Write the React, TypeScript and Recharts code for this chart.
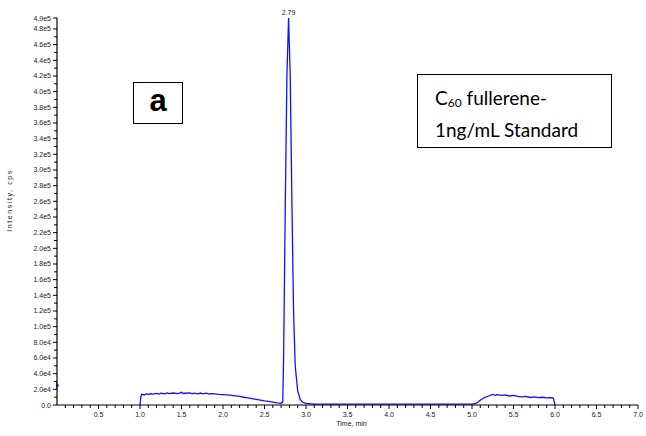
import React from "react";
import { LineChart, Line, XAxis, YAxis, ReferenceDot } from "recharts";

// retention time (min) and intensity (cps)
const times = [
  1.0, 1.01, 1.02, 1.05, 1.08, 1.1, 1.13, 1.15, 1.2, 1.23, 1.25, 1.3, 1.33, 1.35,
  1.4, 1.45, 1.48, 1.5, 1.52, 1.55, 1.6, 1.63, 1.65, 1.7, 1.73, 1.75, 1.8, 1.83,
  1.85, 1.9, 1.95, 2.0, 2.05, 2.1, 2.15, 2.2, 2.25, 2.3, 2.35, 2.4, 2.45, 2.5,
  2.55, 2.6, 2.65, 2.7, 2.72, 2.73, 2.75, 2.77, 2.79, 2.81, 2.83, 2.85, 2.87, 2.9,
  2.93, 2.96, 3.0, 3.1, 3.5, 4.0, 4.5, 5.0, 5.05, 5.1, 5.15, 5.2, 5.25, 5.28,
  5.3, 5.35, 5.4, 5.45, 5.5, 5.55, 5.6, 5.65, 5.7, 5.75, 5.8, 5.85, 5.9, 5.95,
  5.98, 6.0,
];
const intensity = [
  0, 10000, 14000, 12800, 14500, 13400, 14600, 13800, 14800, 13900, 15000, 14200,
  15400, 14500, 15300, 14600, 15100, 16200, 14700, 15000, 15400, 14300, 15200,
  14300, 15300, 14200, 15200, 14000, 14600, 14300, 13600, 13200, 12900, 12300,
  11700, 11000, 9900, 9100, 8200, 7100, 6100, 5200, 4500, 3600, 2800, 2200, 4000,
  60000, 250000, 420000, 494000, 420000, 260000, 120000, 50000, 18000, 7000, 3500,
  2000, 1200, 1000, 1000, 1000, 1000, 2000, 6000, 9500, 11500, 13500, 12400,
  13200, 12300, 12900, 11500, 12200, 11000, 10500, 10900, 9600, 10300, 9400, 9900,
  9000, 9300, 8800, 0,
];

const xMajorTicks = [0.5, 1.0, 1.5, 2.0, 2.5, 3.0, 3.5, 4.0, 4.5, 5.0, 5.5, 6.0, 6.5, 7.0];
const yMajorTicks = [
  0, 20000, 40000, 60000, 80000, 100000, 120000, 140000, 160000, 180000, 200000,
  220000, 240000, 260000, 280000, 300000, 320000, 340000, 360000, 380000, 400000,
  420000, 440000, 460000, 480000, 494000,
];
const peakTime = 2.79;
const peakValue = 494000;

const data = times.map((t, i) => ({ t, v: intensity[i] }));

const xTicks: number[] = [];
for (let i = 1; i <= 70; i++) xTicks.push(i / 10);
const yTicks: number[] = [];
for (let i = 0; i <= 48; i++) yTicks.push(i * 10000);
yTicks.push(494000);

const tickFont = { fontFamily: "'Liberation Sans', Arial, sans-serif", fontSize: 7, fill: "#222" };

const isMajorX = (v: number) => xMajorTicks.some((m) => Math.abs(m - v) < 1e-6);
const isMajorY = (v: number) => yMajorTicks.indexOf(v) >= 0;

const fmtY = (v: number) => (v === 0 ? "0.0" : v.toExponential(1).replace("e+", "e"));

const XTick = ({ x, y, payload }: any) => {
  const v = payload.value;
  const major = isMajorX(v);
  return (
    <g>
      <line x1={x} x2={x} y1={y} y2={y + (major ? 4 : 3)} stroke="#000" strokeWidth={1} />
      {major && (
        <text x={x} y={y + 12} textAnchor="middle" {...tickFont}>
          {v.toFixed(1)}
        </text>
      )}
    </g>
  );
};

const YTick = ({ x, y, payload }: any) => {
  const v = payload.value;
  const major = isMajorY(v);
  return (
    <g>
      <line x1={x - (major ? 4 : 3)} x2={x} y1={y} y2={y} stroke="#000" strokeWidth={1} />
      {major && (
        <text x={x - 6} y={y + 2.5} textAnchor="end" {...tickFont}>
          {fmtY(v)}
        </text>
      )}
    </g>
  );
};

// small cursor marker sitting on the y axis
const Marker = ({ cx, cy }: any) => (
  <path d={`M${cx - 1},${cy - 4} L${cx + 2},${cy} L${cx - 1},${cy + 4} Z`} fill="#102080" />
);

export default function App() {
  return (
    <div style={{ position: "absolute", left: 0, top: 0, width: 646, height: 436, background: "#fff" }}>
      <LineChart width={646} height={436} data={data} margin={{ top: 18, right: 8, bottom: 11, left: 7 }}>
        <XAxis
          dataKey="t"
          type="number"
          domain={[0, 7]}
          ticks={xTicks}
          interval={0}
          height={20}
          tickSize={0}
          tickMargin={0}
          tickLine={false}
          axisLine={{ stroke: "#000", strokeWidth: 1.2 }}
          tick={<XTick />}
          label={({ viewBox }: any) => (
            <text
              x={viewBox.x + viewBox.width / 2 + 4}
              y={viewBox.y + 21}
              textAnchor="middle"
              {...tickFont}
            >
              Time, min
            </text>
          )}
        />
        <YAxis
          type="number"
          domain={[0, 494000]}
          ticks={yTicks}
          interval={0}
          width={50}
          tickSize={0}
          tickMargin={0}
          tickLine={false}
          axisLine={{ stroke: "#000", strokeWidth: 1.2 }}
          tick={<YTick />}
          label={({ viewBox }: any) => (
            <text
              x={12}
              y={viewBox.y + viewBox.height / 2 - 11}
              transform={`rotate(-90, 12, ${viewBox.y + viewBox.height / 2 - 11})`}
              textAnchor="middle"
              letterSpacing={1.6}
              {...tickFont}
            >
              Intensity, cps
            </text>
          )}
        />
        <ReferenceDot
          x={peakTime}
          y={peakValue}
          r={0}
          ifOverflow="visible"
          label={{ value: "2.79", position: "top", offset: 3, ...tickFont }}
        />
        <ReferenceDot x={0} y={25000} ifOverflow="visible" shape={<Marker />} />
        <Line
          type="linear"
          dataKey="v"
          stroke="#1010ff"
          strokeWidth={1.3}
          dot={false}
          isAnimationActive={false}
        />
      </LineChart>
      <div
        style={{
          position: "absolute",
          left: 133,
          top: 82,
          width: 50,
          height: 42,
          boxSizing: "border-box",
          border: "1.5px solid #000",
          display: "flex",
          alignItems: "center",
          justifyContent: "center",
          fontFamily: "'Liberation Sans', Arial, sans-serif",
          fontWeight: "bold",
          fontSize: 31,
          lineHeight: 1,
          paddingBottom: 6,
        }}
      >
        a
      </div>
      <div
        style={{
          position: "absolute",
          left: 417,
          top: 74,
          width: 195,
          height: 74,
          boxSizing: "border-box",
          border: "1px solid #000",
          padding: "9px 0 0 17px",
          fontFamily: "Lato, 'Open Sans', sans-serif",
          fontSize: 19,
          lineHeight: "27px",
          color: "#000",
        }}
      >
        <div>
          C<sub style={{ fontSize: 12, verticalAlign: "-2px" }}>60</sub> fullerene-
        </div>
        <div>1ng/mL Standard</div>
      </div>
    </div>
  );
}
